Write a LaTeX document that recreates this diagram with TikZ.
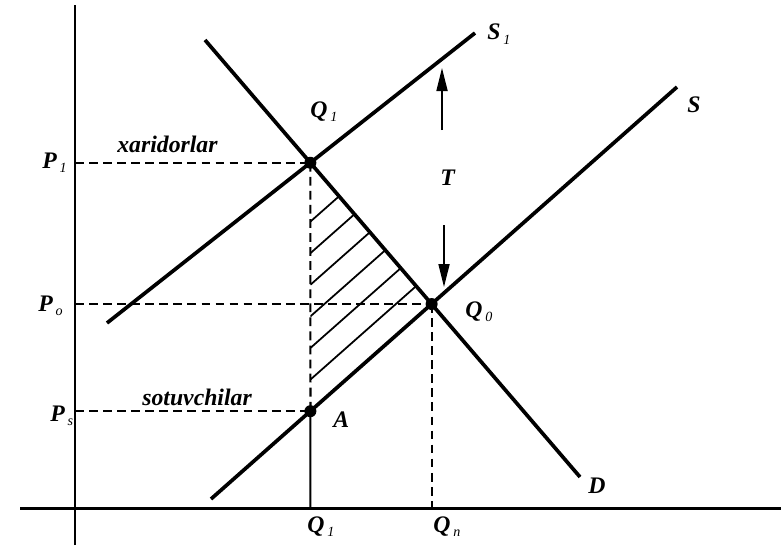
\documentclass[tikz,border=0pt]{standalone}
\usepackage{fontspec}
\setmainfont{Liberation Serif}
\usetikzlibrary{arrows.meta}
\tikzset{
  axis line/.style={line width=1.7pt},
  curve line/.style={line width=2.1pt},
  guide line/.style={line width=1.25pt, dash pattern=on 5pt off 3pt},
  drop line/.style={line width=1.2pt},
  hatch line/.style={line width=1pt},
  tax arrow/.style={line width=1pt, -{Triangle[length=4.6mm,width=2.2mm]}},
  point dot/.style={circle, fill=black, inner sep=0pt, minimum size=2.4mm},
  lbl/.style={font=\fontsize{13.5}{15}\selectfont\bfseries\itshape, inner sep=0pt, anchor=base west}
}
\newcommand{\lblsub}[2]{#1\kern0.12em\raisebox{-2.6pt}{\fontsize{8}{9}\selectfont\mdseries\itshape #2}}

\begin{document}
\begin{tikzpicture}[x=0.2mm, y=-0.2mm]
\useasboundingbox (0,0) rectangle (781,545);

% ------------------------------------------------
% o'qlar
% ------------------------------------------------
\coordinate (O)      at (75,508);
\coordinate (yTop)   at (75,5);
\coordinate (yBot)   at (75,545);
\coordinate (xLeft)  at (20,508);
\coordinate (xRight) at (781,508);
\draw[axis line] (yBot) -- (yTop);
\draw[axis line] (xLeft) -- (xRight);

% ------------------------------------------------
% taklif va talab chiziqlari
% ------------------------------------------------
\coordinate (s1a) at (107,323);
\coordinate (s1b) at (475,33);
\coordinate (sa)  at (211,499);
\coordinate (sb)  at (677,87);
\coordinate (da)  at (205,40);
\coordinate (db)  at (580,477);

\coordinate (Q1) at (intersection of s1a--s1b and da--db);
\coordinate (Q0) at (intersection of sa--sb and da--db);
\coordinate (Q1base) at (Q1 |- O);
\coordinate (Q0base) at (Q0 |- O);
\coordinate (A)  at (intersection of sa--sb and Q1--Q1base);

% shtrixlangan uchburchak
\begin{scope}
  \clip (Q1) -- (A) -- (Q0) -- cycle;
  \foreach \k in {1,...,6}
    \draw[hatch line] ([yshift={\k*6.32mm}]A) -- ++(466,-412);
\end{scope}

% punktir chiziqlar
\draw[guide line] (Q1 -| O) -- (Q1);
\draw[guide line] (Q0 -| O) -- (Q0);
\draw[guide line] (A -| O)  -- (A);
\draw[guide line] (Q1) -- (A);
\draw[guide line] (Q0) -- (Q0base);
\draw[drop line]  (A) -- (Q1base);

\draw[curve line] (s1a) -- (s1b);
\draw[curve line] (sa) -- (sb);
\draw[curve line] (da) -- (db);

\node[point dot] (dQ1) at (Q1) {};
\node[point dot] (dQ0) at (Q0) {};
\node[point dot] (dA)  at (A)  {};

% soliq strelkalari
\coordinate (upTail) at (442,130);
\coordinate (upTip)  at (442,68);
\coordinate (dnTail) at (444,225);
\coordinate (dnTip)  at (444,287);
\draw[tax arrow] (upTail) -- (upTip);
\draw[tax arrow] (dnTail) -- (dnTip);

% ------------------------------------------------
% yozuvlar
% ------------------------------------------------
\node[lbl] (labS1)   at (487,40)  {\lblsub{S}{1}};
\node[lbl] (labS)    at (687,112) {S};
\node[lbl] (labQ1t)  at (310,117) {\lblsub{Q}{1}};
\node[lbl] (labP1)   at (42,168)  {\lblsub{P}{1}};
\node[lbl] (labXar)  at (117,152) {xaridorlar};
\node[lbl] (labT)    at (440,185) {T};
\node[lbl] (labP0)   at (38,311)  {\lblsub{P}{o}};
\node[lbl] (labQ0)   at (465,317) {\lblsub{Q}{0}};
\node[lbl] (labSot)  at (142,405) {sotuvchilar};
\node[lbl] (labPs)   at (50,421)  {\lblsub{P}{s}};
\node[lbl] (labA)    at (333,427) {A};
\node[lbl] (labD)    at (588,493) {D};
\node[lbl] (labQ1b)  at (307,532) {\lblsub{Q}{1}};
\node[lbl] (labQn)   at (433,532) {\lblsub{Q}{n}};
\end{tikzpicture}
\end{document}
